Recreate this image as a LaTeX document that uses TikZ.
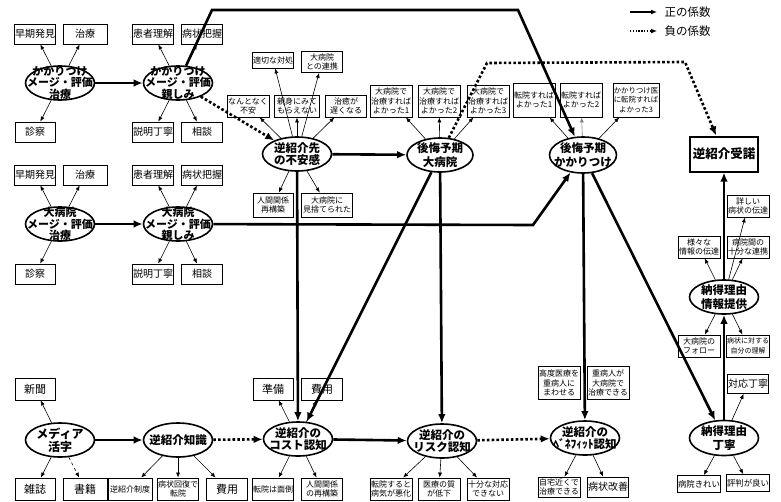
\documentclass[tikz,border=0pt]{standalone}
\usepackage{fontspec}
\setmainfont{Noto Sans CJK JP}[BoldFont={Noto Sans CJK JP Black}]
\usetikzlibrary{shapes.geometric, arrows.meta}

\begin{document}
\begin{tikzpicture}[x=1pt, y=-1pt,
    lat/.style={draw, ellipse, line width=1.6pt, fill=white, inner sep=0pt, minimum width=69pt, minimum height=34pt},
    lattxt/.style={align=center, inner sep=0pt, font=\bfseries\fontsize{11}{11.5}\selectfont},
    obs/.style={draw, rectangle, line width=0.8pt, inner sep=0.5pt, minimum width=41pt, minimum height=20pt, font=\fontsize{10}{11}\selectfont},
    sobs/.style={obs, align=center, minimum height=22pt, font=\fontsize{8}{9.5}\selectfont},
    posarr/.style={-{Latex[length=9pt, width=7.5pt]}, line width=2.6pt},
    negarr/.style={posarr, dash pattern=on 2.6pt off 2.2pt},
    ind/.style={-{Latex[length=5pt, width=4pt]}, line width=0.6pt}]
          \useasboundingbox (0,0) rectangle (781,501);

          \coordinate (p1) at (630,12);
          \coordinate (p2) at (657,12);
          \coordinate (m1) at (630,31);
          \coordinate (m2) at (657,31);
          \draw[-{Latex[length=6pt, width=5pt]}, line width=1.4pt] (p1) -- (p2);
          \draw[-{Latex[length=6pt, width=5pt]}, line width=1.4pt, dash pattern=on 1.4pt off 1.4pt] (m1) -- (m2);
          \node[anchor=west, font=\fontsize{11.5}{12}\selectfont] (lp) at (661,12) {正の係数};
          \node[anchor=west, font=\fontsize{11.5}{12}\selectfont] (lm) at (661,31) {負の係数};

          \node[lat] (e1) at (60,83) {};
          \node[lat] (e2) at (178,83) {};
          \node[lat] (e3) at (60,224) {};
          \node[lat] (e4) at (178,224) {};
          \node[lat] (e5) at (297,154) {};
          \node[lat, minimum width=66pt] (e6) at (440,155) {};
          \node[lat, minimum width=67pt, minimum height=36pt] (e7) at (583,155) {};
          \node[lat] (e8) at (60,440) {};
          \node[lat] (e9) at (178,440) {};
          \node[lat] (e10) at (298,439) {};
          \node[lat] (e11) at (442,441) {};
          \node[lat] (e12) at (585,438) {};
          \node[lat] (e13) at (724,297) {};
          \node[lat, minimum height=35pt] (e14) at (724,438) {};
          \node[draw, rectangle, line width=2pt, minimum width=68pt, minimum height=35pt, inner sep=0pt, font=\bfseries\fontsize{12.5}{13}\selectfont] (acc) at (724,154) {逆紹介受諾};

          \node[obs, minimum width=40pt] (a1) at (35,34) {早期発見};
          \node[obs, minimum width=44pt] (a2) at (85,34) {治療};
          \node[obs, minimum width=40pt] (a3) at (35,132) {診察};
          \node[obs] (a4) at (153,34) {患者理解};
          \node[obs] (a5) at (202,34) {病状把握};
          \node[obs] (a6) at (153,132) {説明丁寧};
          \node[obs] (a7) at (202,132) {相談};

          \node[obs, minimum width=40pt] (b1) at (35,175) {早期発見};
          \node[obs, minimum width=44pt] (b2) at (85,175) {治療};
          \node[obs, minimum width=40pt] (b3) at (35,274) {診察};
          \node[obs] (b4) at (153,175) {患者理解};
          \node[obs] (b5) at (202,175) {病状把握};
          \node[obs] (b6) at (153,274) {説明丁寧};
          \node[obs] (b7) at (202,274) {相談};

          \node[sobs, minimum width=40pt, minimum height=16pt] (c1) at (273,60) {適切な対処};
          \node[sobs, minimum height=21pt] (c2) at (322,62) {大病院\\との連携};
          \node[sobs, minimum width=42pt] (c3) at (248,106) {なんとなく\\不安};
          \node[sobs, minimum width=45pt] (c4) at (297,106) {親身にみて\\もらえない};
          \node[sobs] (c5) at (346,106) {治癒が\\遅くなる};
          \node[sobs, minimum width=40pt, minimum height=24pt] (c6) at (273,205) {人間関係\\再構築};
          \node[sobs, minimum width=51pt, minimum height=24pt] (c7) at (327,205) {大病院に\\見捨てられた};

          \node[sobs, minimum width=42pt, minimum height=32pt] (d1) at (391,101) {大病院で\\治療すれば\\よかった1};
          \node[sobs, minimum width=42pt, minimum height=32pt] (d2) at (439,101) {大病院で\\治療すれば\\よかった2};
          \node[sobs, minimum width=42pt, minimum height=32pt] (d3) at (488,101) {大病院で\\治療すれば\\よかった3};
          \node[sobs, minimum width=42pt, minimum height=34pt] (d4) at (534,100) {転院すれば\\よかった1};
          \node[sobs, minimum width=42pt, minimum height=34pt] (d5) at (581,100) {転院すれば\\よかった2};
          \node[sobs, minimum width=46pt, minimum height=34pt, font=\fontsize{7.4}{9.5}\selectfont] (d6) at (636,100) {かかりつけ医\\に転院すれば\\よかった3};

          \node[sobs, minimum width=42pt] (f1) at (748,206) {詳しい\\病状の伝達};
          \node[sobs, minimum width=42pt] (f2) at (699,247) {様々な\\情報の伝達};
          \node[sobs, minimum width=42pt] (f3) at (748,247) {病院間の\\十分な連携};
          \node[sobs, minimum width=42pt] (f4) at (699,346) {大病院の\\フォロー};
          \node[sobs, minimum width=42pt, font=\fontsize{7}{9.5}\selectfont] (f5) at (748,346) {病状に対する\\自分の理解};
          \node[obs, minimum height=19pt] (f6) at (748,384) {対応丁寧};
          \node[sobs, minimum width=42pt, minimum height=17pt, font=\fontsize{8.4}{9}\selectfont] (f7) at (699,484) {病院きれい};
          \node[sobs, minimum width=42pt, minimum height=17pt, font=\fontsize{8.4}{9}\selectfont] (f8) at (748,483) {評判が良い};

          \node[obs, minimum width=40pt, minimum height=22pt, font=\fontsize{11}{12}\selectfont] (g1) at (35,389) {新聞};
          \node[obs, minimum width=40pt, minimum height=22pt, font=\fontsize{11}{12}\selectfont] (g2) at (35,489) {雑誌};
          \node[obs, minimum width=44pt, minimum height=22pt, font=\fontsize{11}{12}\selectfont] (g3) at (85,489) {書籍};
          \node[sobs, minimum width=44pt] (g4) at (130,489) {逆紹介制度};
          \node[sobs] (g5) at (178,489) {病状回復で\\転院};
          \node[obs, minimum height=22pt, font=\fontsize{11}{12}\selectfont] (g6) at (227,489) {費用};

          \node[obs, minimum width=40pt, minimum height=22pt, font=\fontsize{11}{12}\selectfont] (h1) at (273,389) {準備};
          \node[obs, minimum height=22pt, font=\fontsize{11}{12}\selectfont] (h2) at (322,389) {費用};
          \node[sobs, minimum width=40pt] (h3) at (273,489) {転院は面倒};
          \node[sobs] (h4) at (322,489) {人間関係\\の再構築};
          \node[sobs, minimum width=42pt] (h5) at (391,489) {転院すると\\病気が悪化};
          \node[sobs, minimum width=42pt] (h6) at (439,489) {医療の質\\が低下};
          \node[sobs, minimum width=42pt] (h7) at (488,489) {十分な対応\\できない};

          \node[sobs, minimum width=42pt, minimum height=33pt] (k1) at (559,383) {高度医療を\\重病人に\\まわせる};
          \node[sobs, minimum width=42pt, minimum height=33pt] (k2) at (608,383) {重病人が\\大病院で\\治療できる};
          \node[sobs, minimum width=42pt, minimum height=20pt] (k3) at (559,487) {自宅近くで\\治療できる};
          \node[obs, minimum height=20pt] (k4) at (608,487) {病状改善};

          \coordinate (t1) at (212,10);
          \coordinate (t2) at (518,10);
          \coordinate (t3) at (533,225);
          \coordinate (u1) at (487,63);
          \coordinate (u2) at (685,62);

          \draw[ind] (e1) -- (a1);
          \draw[ind] (e1) -- (a2);
          \draw[ind] (e1) -- (a3);
          \draw[ind] (e2) -- (a4);
          \draw[ind] (e2) -- (a5);
          \draw[ind] (e2) -- (a6);
          \draw[ind] (e2) -- (a7);
          \draw[ind] (e3) -- (b1);
          \draw[ind] (e3) -- (b2);
          \draw[ind] (e3) -- (b3);
          \draw[ind] (e4) -- (b4);
          \draw[ind] (e4) -- (b5);
          \draw[ind] (e4) -- (b6);
          \draw[ind] (e4) -- (b7);
          \draw[ind] (e5) -- (c1);
          \draw[ind] (e5) -- (c2);
          \draw[ind] (e5) -- (c3);
          \draw[ind] (e5) -- (c4);
          \draw[ind] (e5) -- (c5);
          \draw[ind] (e5) -- (c6);
          \draw[ind] (e5) -- (c7);
          \draw[ind] (e6) -- (d1);
          \draw[ind] (e6) -- (d2);
          \draw[ind] (e6) -- (d3);
          \draw[ind] (e7) -- (d4);
          \draw[ind, gray] (e7) -- (d5);
          \draw[ind] (e7) -- (d6);
          \draw[ind] (e13) -- (f1);
          \draw[ind] (e13) -- (f2);
          \draw[ind] (e13) -- (f3);
          \draw[ind] (e13) -- (f4);
          \draw[ind] (e13) -- (f5);
          \draw[ind] (e14) -- (f6);
          \draw[ind] (e14) -- (f7);
          \draw[ind] (e14) -- (f8);
          \draw[ind] (e8) -- (g1);
          \draw[ind] (e8) -- (g2);
          \draw[ind, dashed] (e8) -- (g3);
          \draw[ind] (e9) -- (g4);
          \draw[ind] (e9) -- (g5);
          \draw[ind] (e9) -- (g6);
          \draw[ind] (e10) -- (h1);
          \draw[ind] (e10) -- (h2);
          \draw[ind] (e10) -- (h3);
          \draw[ind] (e10) -- (h4);
          \draw[ind] (e11) -- (h5);
          \draw[ind] (e11) -- (h6);
          \draw[ind] (e11) -- (h7);
          \draw[ind] (e12) -- (k3);
          \draw[ind] (e12) -- (k4);

          \draw[posarr] (e1) -- (e2);
          \draw[posarr] (e3) -- (e4);
          \draw[posarr] (e2) -- (t1) -- (t2) -- (e7);
          \draw[posarr] (e4) -- (t3) -- (e7);
          \draw[negarr] (e2) -- (e5);
          \draw[posarr] (e5) -- (e6);
          \draw[posarr] (e5) -- (e10);
          \draw[posarr] (e6) -- (e10);
          \draw[posarr] (e6) -- (e11);
          \draw[negarr] (e6) -- (u1) -- (u2) -- (acc);
          \draw[posarr] (e7) -- (e12);
          \draw[posarr] (e7) -- (e14);
          \draw[posarr] (e14) -- (e13);
          \draw[posarr] (e13) -- (acc);
          \draw[posarr] (e8) -- (e9);
          \draw[negarr] (e9) -- (e10);
          \draw[posarr] (e10) -- (e11);
          \draw[negarr] (e11) -- (e12);

          \node[lattxt] (e1t) at (e1) {かかりつけ\\メージ・評価\\治療};
          \node[lattxt] (e2t) at (e2) {かかりつけ\\メージ・評価\\親しみ};
          \node[lattxt] (e3t) at (e3) {大病院\\メージ・評価\\治療};
          \node[lattxt] (e4t) at (e4) {大病院\\メージ・評価\\親しみ};
          \node[lattxt, font=\bfseries\fontsize{11.5}{12.5}\selectfont] (e5t) at (e5) {逆紹介先\\の不安感};
          \node[lattxt, font=\bfseries\fontsize{11.5}{14}\selectfont] (e6t) at (e6) {後悔予期\\大病院};
          \node[lattxt, font=\bfseries\fontsize{11.5}{14}\selectfont] (e7t) at (e7) {後悔予期\\かかりつけ};
          \node[lattxt, font=\bfseries\fontsize{12}{13}\selectfont] (e8t) at (e8) {メディア\\活字};
          \node[lattxt, font=\bfseries\fontsize{11.5}{12.5}\selectfont] (e9t) at (e9) {逆紹介知識};
          \node[lattxt, font=\bfseries\fontsize{11.5}{12.5}\selectfont] (e10t) at (e10) {逆紹介の\\コスト認知};
          \node[lattxt, font=\bfseries\fontsize{11.5}{12.5}\selectfont] (e11t) at (e11) {逆紹介の\\リスク認知};
          \node[lattxt, font=\bfseries\fontsize{11.5}{12.5}\selectfont] (e12t) at (e12) {逆紹介の\\ﾍﾞﾈﾌｨｯﾄ認知};
          \node[lattxt, font=\bfseries\fontsize{11.5}{14}\selectfont] (e13t) at (e13) {納得理由\\情報提供};
          \node[lattxt, font=\bfseries\fontsize{11.5}{14}\selectfont] (e14t) at (e14) {納得理由\\丁寧};
        \end{tikzpicture}
\end{document}
